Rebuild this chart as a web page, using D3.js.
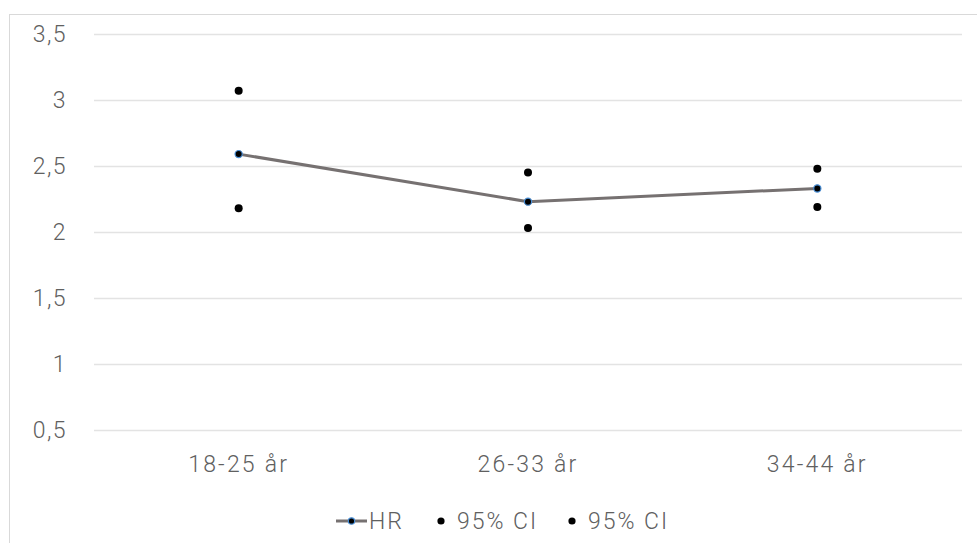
<!DOCTYPE html>
<html><head><meta charset="utf-8">
<script src="https://cdn.jsdelivr.net/npm/d3@7"></script>
<style>
html,body{margin:0;padding:0;background:#fff;overflow:hidden;}
text{font-family:Roboto, "Noto Sans", sans-serif;font-weight:300;fill:#606060;}
</style></head><body>
<svg id="chart" width="977" height="543"></svg>
<script>
const categories = ["18-25 år", "26-33 år", "34-44 år"];
const hr = [2.59, 2.23, 2.33];
const ciUpper = [3.07, 2.45, 2.48];
const ciLower = [2.18, 2.03, 2.19];
const yTicks = [0.5, 1, 1.5, 2, 2.5, 3, 3.5];
const yTickLabels = ["0,5", "1", "1,5", "2", "2,5", "3", "3,5"];
const legendLabels = ["HR", "95% CI", "95% CI"];

(function () {
const svg = d3.select("#chart");
const plotLeft = 94, plotRight = 962, plotTop = 34, plotBottom = 430;

svg.append("rect").attr("x", 9.5).attr("y", 14.5).attr("width", 1000).attr("height", 600)
  .attr("fill", "none").attr("stroke", "#d9d9d9").attr("stroke-width", 1);

const x = d3.scaleBand().domain(categories).range([plotLeft, plotRight]);
const y = d3.scaleLinear().domain([0.5, 3.5]).range([plotBottom, plotTop]);
const cx = d => x(d) + x.bandwidth() / 2;

// gridlines
svg.append("g").selectAll("line").data(yTicks).join("line")
  .attr("x1", plotLeft).attr("x2", plotRight)
  .attr("y1", d => Math.round(y(d)) + 0.5).attr("y2", d => Math.round(y(d)) + 0.5)
  .attr("stroke", "#e3e3e3").attr("stroke-width", 1.5);

// y labels
svg.append("g").selectAll("text").data(yTicks).join("text")
  .attr("x", 67).attr("y", d => y(d)).attr("dy", "0.35em")
  .attr("text-anchor", "end").style("font-size", "23px").style("letter-spacing", "1.4px")
  .text((d, i) => yTickLabels[i]);

// x labels
svg.append("g").selectAll("text").data(categories).join("text")
  .attr("x", d => cx(d)).attr("y", 472)
  .attr("text-anchor", "middle").style("font-size", "23px").style("letter-spacing", "2.2px")
  .text(d => d);

// HR line
const line = d3.line().x((d, i) => cx(categories[i])).y(d => y(d));
svg.append("path").datum(hr).attr("d", line)
  .attr("fill", "none").attr("stroke", "#767171").attr("stroke-width", 3);

// CI points
[ciUpper, ciLower].forEach(arr => {
  svg.append("g").selectAll("circle").data(arr).join("circle")
    .attr("cx", (d, i) => cx(categories[i])).attr("cy", d => y(d))
    .attr("r", 4).attr("fill", "#000");
});

// HR markers
svg.append("g").selectAll("circle").data(hr).join("circle")
  .attr("cx", (d, i) => cx(categories[i])).attr("cy", d => y(d))
  .attr("r", 3.6).attr("fill", "#000").attr("stroke", "#4a8fd6").attr("stroke-width", 1.2);

// legend
const ly = 521;
const lg = svg.append("g");
lg.append("line").attr("x1", 336).attr("x2", 367).attr("y1", ly).attr("y2", ly)
  .attr("stroke", "#767171").attr("stroke-width", 3);
lg.append("circle").attr("cx", 351.5).attr("cy", ly).attr("r", 3.2)
  .attr("fill", "#000").attr("stroke", "#4a8fd6").attr("stroke-width", 1.2);
lg.append("text").attr("x", 369).attr("y", ly).attr("dy", "0.35em")
  .style("font-size", "23px").style("letter-spacing", "2px").text(legendLabels[0]);
[[441, 457], [572, 588]].forEach((p, i) => {
  lg.append("circle").attr("cx", p[0]).attr("cy", ly).attr("r", 3.6).attr("fill", "#000");
  lg.append("text").attr("x", p[1]).attr("y", ly).attr("dy", "0.35em")
    .style("font-size", "23px").style("letter-spacing", "2px").text(legendLabels[i + 1]);
});
})();
</script></body></html>
